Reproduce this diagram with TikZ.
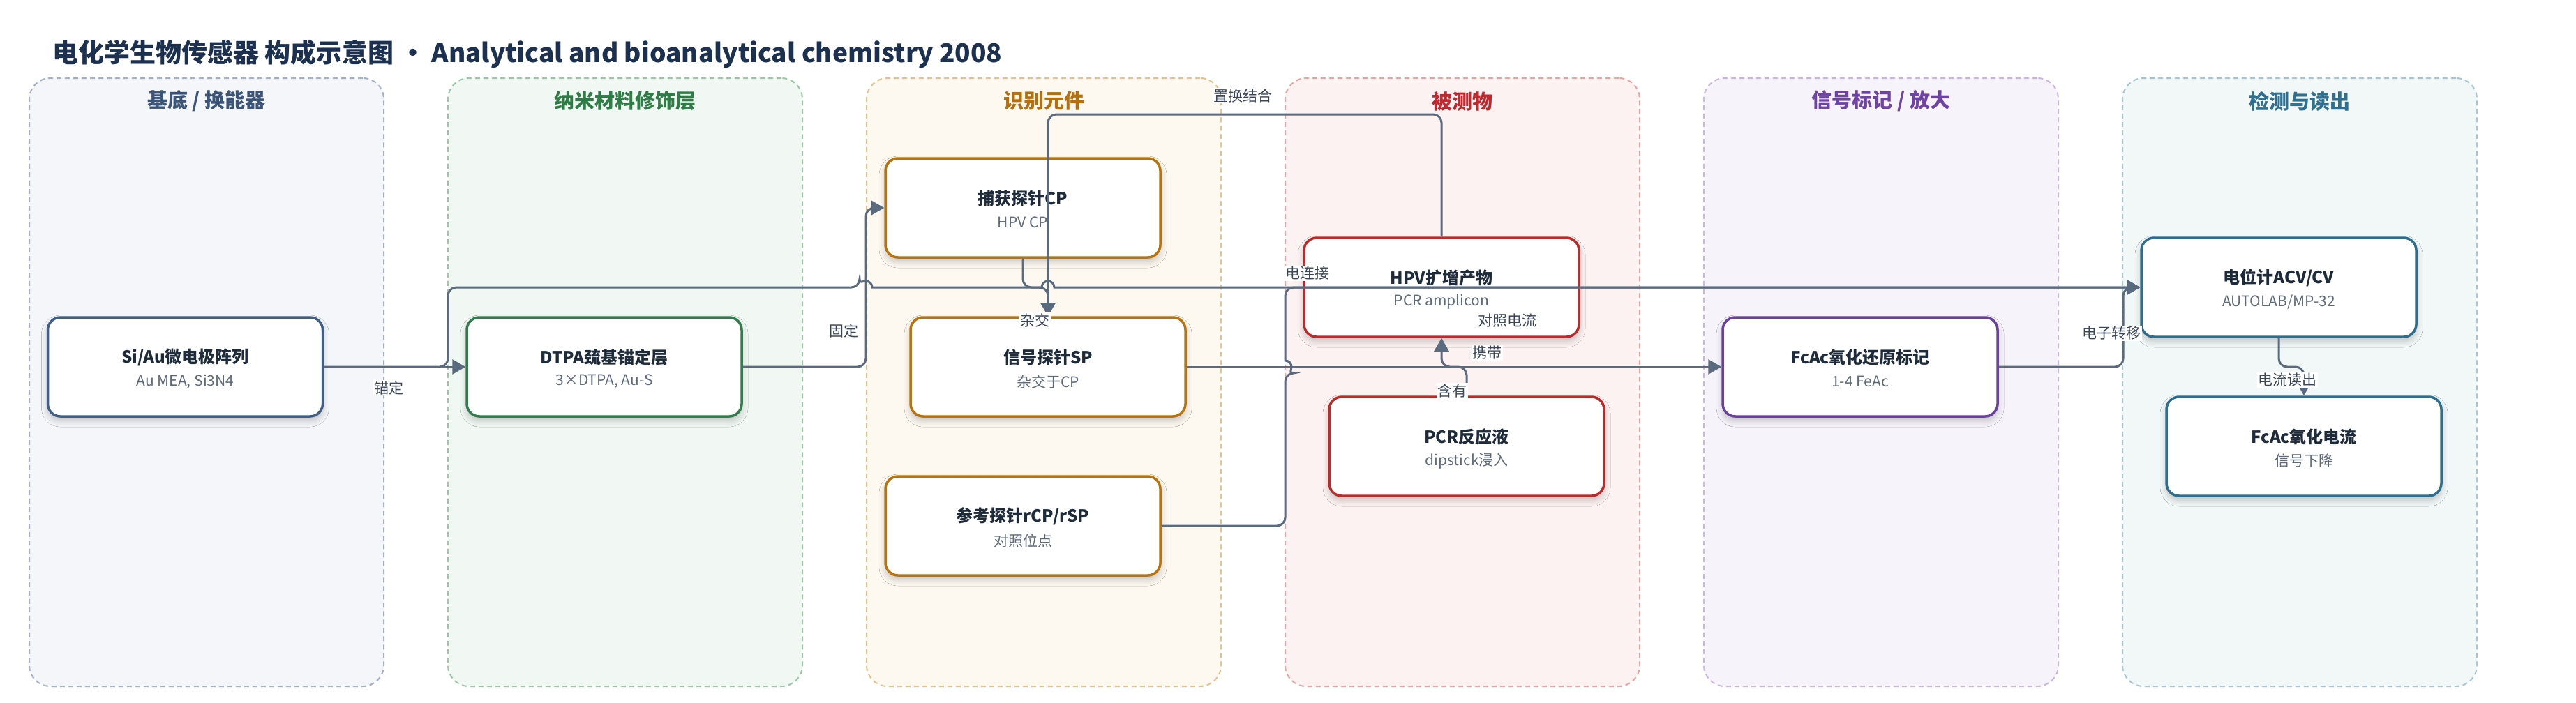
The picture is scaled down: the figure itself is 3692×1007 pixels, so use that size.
\documentclass[tikz,border=0pt]{standalone}
\usepackage{fontspec}
\setmainfont{Noto Sans CJK SC}
\usetikzlibrary{arrows.meta,shadows.blur}
\definecolor{ec}{HTML}{5A6B80}
\definecolor{titlec}{HTML}{1C3050}
\definecolor{txt}{HTML}{1E2B3A}
\definecolor{subc}{HTML}{5F6B7A}
\definecolor{labc}{HTML}{3A4657}
\definecolor{fA}{HTML}{F4F6FA}\definecolor{bA}{HTML}{A3B1C8}\definecolor{hA}{HTML}{3B5478}
\definecolor{fB}{HTML}{F1F8F3}\definecolor{bB}{HTML}{98C8A6}\definecolor{hB}{HTML}{2E7D46}
\definecolor{fC}{HTML}{FDF8F0}\definecolor{bC}{HTML}{E6C28A}\definecolor{hC}{HTML}{B5700C}
\definecolor{fD}{HTML}{FDF2F2}\definecolor{bD}{HTML}{E8A3A3}\definecolor{hD}{HTML}{C0282D}
\definecolor{fE}{HTML}{F7F3FB}\definecolor{bE}{HTML}{CBB5E3}\definecolor{hE}{HTML}{6E43A3}
\definecolor{fF}{HTML}{F2F7F8}\definecolor{bF}{HTML}{A5C7D3}\definecolor{hF}{HTML}{2F6F8F}
\definecolor{nA}{HTML}{3F5F88}
\definecolor{nB}{HTML}{2E7D4A}
\definecolor{nC}{HTML}{B8730A}
\definecolor{nD}{HTML}{BE2A2A}
\definecolor{nE}{HTML}{6A3FA0}
\definecolor{nF}{HTML}{2C6E8E}
\newcommand\mkbox[6]{%
  \node[nbox=#4] (#1) at (#2,#3) {};
  \node[ntitle] (#1-t) at (#2,#3-14) {#5};
  \node[nsub] (#1-s) at (#2,#3+21) {#6};
}
\newcommand\mklane[6]{%
  \node[lanebox, fill=#3, draw=#4] (#1) at (#2,548) {};
  \node[lanehead, text=#5] (#1-h) at (#2,145) {#6};
}
\begin{document}
\begin{tikzpicture}[x=1pt,y=-1pt,
  lanebox/.style={rounded corners=30pt, line width=2pt, dash pattern=on 7pt off 5pt, minimum width=508pt, minimum height=872pt, inner sep=0pt},
  lanehead/.style={font=\fontsize{29}{32}\selectfont\bfseries, inner sep=0pt},
  nbox/.style={draw=#1, line width=3.5pt, fill=white, rounded corners=18pt, minimum width=394pt, minimum height=142pt, inner sep=0pt,
     blur shadow={shadow xshift=0pt, shadow yshift=-6pt, shadow blur radius=9pt, shadow opacity=22}},
  ntitle/.style={font=\fontsize{24}{28}\selectfont\bfseries, text=txt, inner sep=0pt},
  nsub/.style={font=\fontsize{21}{24}\selectfont, text=subc, inner sep=0pt},
  edge/.style={draw=ec, line width=3pt, rounded corners=12pt, -{Triangle[length=19pt,width=21pt]}},
  elab/.style={font=\fontsize{21}{24}\selectfont, text=labc, fill=white, inner sep=1.5pt}
]
\useasboundingbox (0,0) rectangle (3692,1007);
\fill[white] (0,0) rectangle (3692,1007);
\node[anchor=west, font=\fontsize{37}{40}\selectfont\bfseries, text=titlec, inner sep=0pt] (title) at (75,77)
  {电化学生物传感器 构成示意图 · Analytical and bioanalytical chemistry 2008};
% lanes
\mklane{laneA}{296}{fA}{bA}{hA}{基底 / 换能器}
\mklane{laneB}{896}{fB}{bB}{hB}{纳米材料修饰层}
\mklane{laneC}{1496}{fC}{bC}{hC}{识别元件}
\mklane{laneD}{2096}{fD}{bD}{hD}{被测物}
\mklane{laneE}{2696}{fE}{bE}{hE}{信号标记 / 放大}
\mklane{laneF}{3296}{fF}{bF}{hF}{检测与读出}
% nodes
\mkbox{sia}{265.5}{526}{nA}{Si/Au微电极阵列}{Au MEA, Si3N4}
\mkbox{dtpa}{866}{526}{nB}{DTPA巯基锚定层}{3×DTPA, Au-S}
\mkbox{cp}{1466}{298}{nC}{捕获探针CP}{HPV CP}
\mkbox{sp}{1502}{526}{nC}{信号探针SP}{杂交于CP}
\mkbox{rcp}{1466}{754}{nC}{参考探针rCP/rSP}{对照位点}
\mkbox{hpv}{2066}{412}{nD}{HPV扩增产物}{PCR amplicon}
\mkbox{pcr}{2102}{640}{nD}{PCR反应液}{dipstick浸入}
\mkbox{fcac}{2666}{526}{nE}{FcAc氧化还原标记}{1-4 FeAc}
\mkbox{pot}{3266}{412}{nF}{电位计ACV/CV}{AUTOLAB/MP-32}
\mkbox{cur}{3302}{640}{nF}{FcAc氧化电流}{信号下降}
% edges
\draw[edge] (sia.east) -- (dtpa.west);
\draw[edge] (dtpa.east) -- (1241,526) -- (1241,298) -- (cp.west);
\draw[edge] (cp.south) -- (1466,412) -- (1502,412) -- (sp.north);
\draw[edge] (hpv.north) -- (2066,164) -- (1502,164) -- (sp.north);
\draw[edge] (sp.east) -- (fcac.west);
\draw[edge] (pcr.north) -- (2102,526) -- (2066,526) -- (hpv.south);
\draw[edge] (sia.east) -- (642,526) -- (642,412) -- (1232,412) [sharp corners]
   arc[start angle=180, end angle=360, radius=9] -- (1493,412)
   arc[start angle=180, end angle=360, radius=9] -- (pot.west);
\draw[edge] (rcp.east) -- (1842,754) -- (1842,535) [sharp corners]
   arc[start angle=90, end angle=-90, radius=9] -- (1842,500) [rounded corners=12pt] -- (1842,412) -- (pot.west);
\draw[edge] (fcac.east) -- (3043,526) -- (3043,412) -- (pot.west);
\draw[edge] (pot.south) -- (3266,526) -- (3302,526) -- (cur.north);
% edge labels
\node[elab] (l1) at (557,556) {锚定};
\node[elab] (l2) at (1874,392) {电连接};
\node[elab] (l3) at (1209,474) {固定};
\node[elab] (l4) at (1483,459) {杂交};
\node[elab] (l5) at (1781,137) {置换结合};
\node[elab] (l6) at (2131,506) {携带};
\node[elab] (l7) at (2081,560) {含有};
\node[elab] (l8) at (2160,460) {对照电流};
\node[elab] (l9) at (3026,478) {电子转移};
\node[elab] (l10) at (3278,545) {电流读出};
\end{tikzpicture}
\end{document}
